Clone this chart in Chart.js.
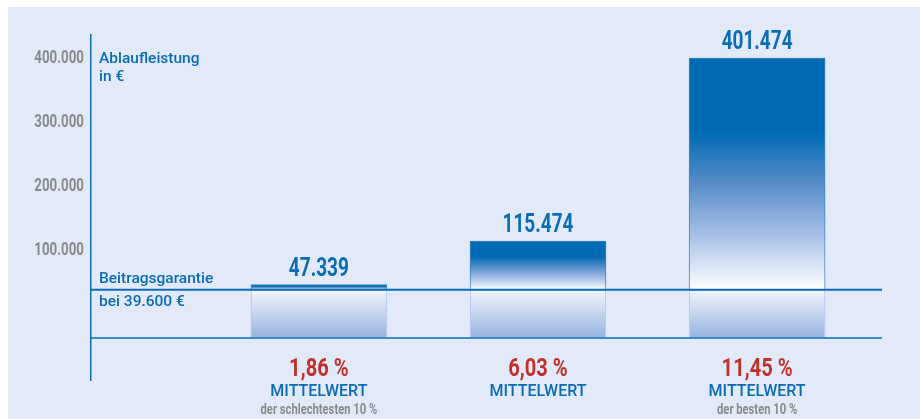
<!DOCTYPE html>
<html><head><meta charset="utf-8">
<script src="https://cdn.jsdelivr.net/npm/chart.js@4.4.0/dist/chart.umd.min.js"></script>
<style>
html,body{margin:0;padding:0;background:#fff;width:920px;height:419px;overflow:hidden}
#wrap{position:absolute;left:8px;top:7px;width:912px;height:412px;background:#e2e9f9}
canvas{display:block}
</style></head><body>
<div id="wrap"><canvas id="c" width="912" height="412"></canvas></div>
<script>
// ---- data ----
const categories = ['schlechteste 10 %', 'Mittelwert', 'beste 10 %'];
const payouts = [47339, 115474, 401474];
const rates = [1.86, 6.03, 11.45];
const rateCaption = ['MITTELWERT', 'MITTELWERT', 'MITTELWERT'];
const subCaption = ['der schlechtesten 10 %', '', 'der besten 10 %'];
const guarantee = 39600;
const guaranteeLabel = ['Beitragsgarantie', 'bei 39.600 €'];
const axisTitle = ['Ablaufleistung', 'in €'];
const yTicks = [100000, 200000, 300000, 400000];

// ---- style ----
const BLUE = '#0a6cb5', RED = '#c0312b', GREY = '#8a8a8a';
const FONT = "'Roboto','Liberation Sans',sans-serif";
const SX = 0.76; // condensed look

const fmtThousands = v => String(Math.round(v)).replace(/\B(?=(\d{3})+(?!\d))/g, '.');
const fmtRate = v => v.toFixed(2).replace('.', ',') + ' %';

function txt(c, s, x, y, font, color, align, base, sx) {
  c.save();
  c.translate(x, y);
  c.scale(sx, 1);
  c.font = font;
  c.fillStyle = color;
  c.textAlign = align;
  c.textBaseline = base;
  c.fillText(s, 0, 0);
  c.restore();
}

function barGradient(ctx) {
  const chart = ctx.chart;
  if (!chart.chartArea || ctx.dataIndex === undefined) return BLUE;
  const ys = chart.scales.y;
  const top = ys.getPixelForValue(payouts[ctx.dataIndex]);
  const base = ys.getPixelForValue(guarantee);
  const g = chart.ctx.createLinearGradient(0, top, 0, base);
  g.addColorStop(0, '#006ab4');
  g.addColorStop(0.32, '#006ab4');
  g.addColorStop(0.55, '#5a8fcb');
  g.addColorStop(0.76, '#a6bfe6');
  g.addColorStop(1, '#ffffff');
  return g;
}

const decor = {
  id: 'decor',
  beforeDatasetsDraw(chart) {
    const c = chart.ctx, ys = chart.scales.y, a = chart.chartArea;
    const gPix = ys.getPixelForValue(guarantee);
    const lowY = a.bottom - 42;
    const meta = chart.getDatasetMeta(0);
    meta.data.forEach(el => {
      const x0 = el.x - el.width / 2;
      const g = c.createLinearGradient(0, gPix, 0, lowY);
      g.addColorStop(0, '#f2f5fd');
      g.addColorStop(1, '#97b2df');
      c.save();
      c.fillStyle = g;
      c.fillRect(x0, gPix, el.width, lowY - gPix);
      c.strokeStyle = '#b7ccee';
      c.lineWidth = 1;
      c.strokeRect(x0 + 0.5, gPix + 0.5, el.width - 1, lowY - gPix - 1);
      c.restore();
    });
  },
  afterDatasetsDraw(chart) {
    const c = chart.ctx, ys = chart.scales.y, a = chart.chartArea;
    const gPix = ys.getPixelForValue(guarantee);
    const lowY = a.bottom - 42;
    c.save();
    c.strokeStyle = BLUE;
    c.lineWidth = 2;
    c.beginPath(); c.moveTo(a.left, gPix); c.lineTo(a.right, gPix); c.stroke();
    c.lineWidth = 1.5;
    c.beginPath(); c.moveTo(a.left, lowY); c.lineTo(a.right, lowY); c.stroke();
    c.restore();
    const lf = '500 15.5px ' + FONT;
    txt(c, guaranteeLabel[0], a.left + 8, gPix - 3, lf, BLUE, 'left', 'bottom', 1);
    txt(c, guaranteeLabel[1], a.left + 8, gPix + 5, lf, BLUE, 'left', 'top', 1);
    const t = ys.getPixelForValue(yTicks[yTicks.length - 1]);
    txt(c, axisTitle[0], a.left + 8, t, lf, BLUE, 'left', 'middle', 1);
    txt(c, axisTitle[1], a.left + 8, t + 18, lf, BLUE, 'left', 'middle', 1);
    yTicks.forEach(v => {
      txt(c, fmtThousands(v), a.left - 7, ys.getPixelForValue(v), 'bold 17.5px ' + FONT, GREY, 'right', 'middle', SX);
    });
    const meta = chart.getDatasetMeta(0);
    meta.data.forEach((el, i) => {
      txt(c, fmtThousands(payouts[i]), el.x, el.y - 9, 'bold 25px ' + FONT, BLUE, 'center', 'alphabetic', SX);
      txt(c, fmtRate(rates[i]), el.x, a.bottom - 11, 'bold 26.5px ' + FONT, RED, 'center', 'middle', SX);
      txt(c, rateCaption[i], el.x, a.bottom + 12, '500 16px ' + FONT, BLUE, 'center', 'middle', 1);
      txt(c, subCaption[i], el.x, a.bottom + 30, 'bold 14px ' + FONT, GREY, 'center', 'middle', 0.8);
    });
  }
};

new Chart(document.getElementById('c'), {
  type: 'bar',
  data: {
    labels: categories,
    datasets: [{
      data: payouts.map((v, i) => ({ x: i, y: [guarantee, v] })),
      backgroundColor: barGradient,
      borderColor: '#3a86cc',
      borderWidth: 1,
      borderSkipped: false,
      barThickness: 136
    }]
  },
  options: {
    responsive: false,
    animation: false,
    devicePixelRatio: 1,
    layout: { padding: { left: 0, right: 38, top: 28, bottom: 39 } },
    plugins: { legend: { display: false }, tooltip: { enabled: false } },
    scales: {
      x: { type: 'linear', offset: false, min: -1.04, max: 2.57, display: false },
      y: {
        min: -101562, max: 437500,
        afterFit: s => { s.width = 83; },
        afterBuildTicks: s => { s.ticks = yTicks.map(v => ({ value: v })); },
        grid: { display: false, drawTicks: false },
        border: { display: true, color: BLUE, width: 1.5 },
        ticks: { display: false }
      }
    }
  },
  plugins: [decor]
});
</script>
</body></html>
